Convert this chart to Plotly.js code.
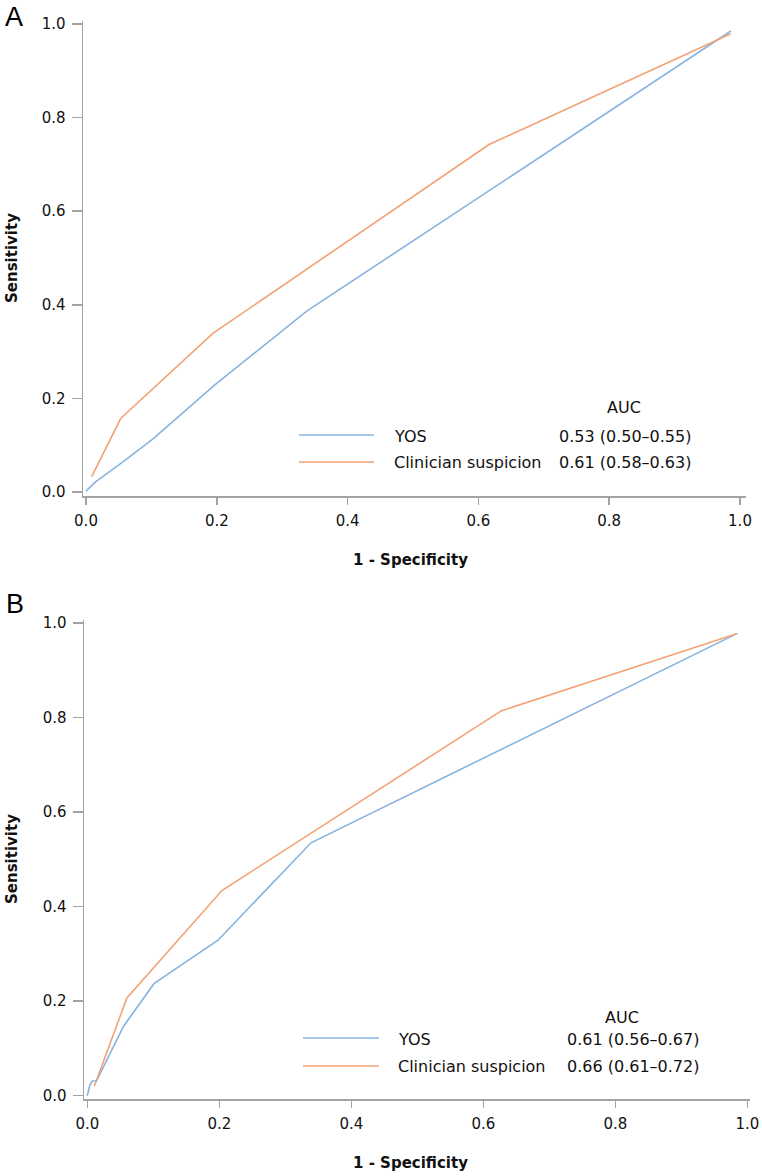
<!DOCTYPE html>
<html>
<head>
<meta charset="utf-8">
<script src="https://cdn.plot.ly/plotly-3.0.1.min.js"></script>
<style>html,body{margin:0;padding:0;background:#fff;}#chart{width:762px;height:1176px;}</style>
</head>
<body>
<div id="chart"></div>
<script>
// ---- Data ----
const seriesNames = ["YOS", "Clinician suspicion"];
const aucTextA = ["0.53 (0.50\u20130.55)", "0.61 (0.58\u20130.63)"];
const aucTextB = ["0.61 (0.56\u20130.67)", "0.66 (0.61\u20130.72)"];
const tickVals = [0, 0.2, 0.4, 0.6, 0.8, 1.0];
const tickLabels = ["0.0", "0.2", "0.4", "0.6", "0.8", "1.0"];

// Panel A
const aYosX  = [0, 0.015, 0.057, 0.102, 0.197, 0.338, 0.986];
const aYosY  = [0.002, 0.022, 0.065, 0.113, 0.229, 0.387, 0.985];
const aClinX = [0.0087, 0.053, 0.194, 0.617, 0.986];
const aClinY = [0.033, 0.157, 0.339, 0.743, 0.979];

// Panel B
const bYosX  = [0, 0.004, 0.0076, 0.014, 0.0545, 0.101, 0.198, 0.339, 0.985];
const bYosY  = [0, 0.023, 0.031, 0.031, 0.146, 0.237, 0.329, 0.535, 0.978];
const bClinX = [0.0106, 0.06, 0.204, 0.627, 0.985];
const bClinY = [0.02, 0.207, 0.434, 0.814, 0.978];

// ---- Styling ----
const W = 762, H = 1176;
const BLUE = "#86b3df", ORANGE = "#f2a274", AXIS = "#a3a3a3";
const FONT = "DejaVu Sans, Verdana, sans-serif";
const px = x => x / W;
const py = y => 1 - y / H;

function lineTrace(x, y, color, xa, ya, name) {
  return {x: x, y: y, type: "scatter", mode: "lines", name: name,
          line: {color: color, width: 1.6}, xaxis: xa, yaxis: ya,
          showlegend: false, hoverinfo: "skip"};
}

const data = [
  lineTrace(aYosX, aYosY, BLUE, "x", "y", seriesNames[0]),
  lineTrace(aClinX, aClinY, ORANGE, "x", "y", seriesNames[1]),
  lineTrace(bYosX, bYosY, BLUE, "x2", "y2", seriesNames[0]),
  lineTrace(bClinX, bClinY, ORANGE, "x2", "y2", seriesNames[1])
];

function axisBase(extra) {
  return Object.assign({
    showline: true, linecolor: AXIS, linewidth: 1.5,
    ticks: "outside", ticklen: 8, tickwidth: 1.5, tickcolor: AXIS,
    showgrid: false, zeroline: false,
    tickvals: tickVals, ticktext: tickLabels,
    tickfont: {family: FONT, size: 15, color: "#111"},
    fixedrange: true
  }, extra);
}

const layout = {
  width: W, height: H,
  margin: {l: 0, r: 0, t: 0, b: 0},
  paper_bgcolor: "#fff", plot_bgcolor: "#fff",
  showlegend: false,
  xaxis: axisBase({domain: [px(83), px(746)], range: [-3/654, 660/654], anchor: "y", ticklen: 7, ticklabelstandoff: 3}),
  yaxis: axisBase({domain: [py(496), py(20.5)], range: [-4/468, 1 + 3.5/468], anchor: "x", ticklen: 10, ticklabelstandoff: 3}),
  xaxis2: axisBase({domain: [px(84), px(750)], range: [-3.3/660, 662.7/660], anchor: "y2", ticklen: 7, ticklabelstandoff: 3}),
  yaxis2: axisBase({domain: [py(1099), py(619.5)], range: [-3.3/472.7, 1 + 3.5/472.7], anchor: "x2", ticklen: 10, ticklabelstandoff: 3}),
  shapes: [],
  annotations: []
};

function txt(x, y, text, opts) {
  return Object.assign({xref: "paper", yref: "paper", x: px(x), y: py(y), text: text,
    showarrow: false, xanchor: "left", yanchor: "middle",
    font: {family: FONT, size: 16, color: "#111"}}, opts || {});
}
function key(x0, x1, y, color) {
  return {type: "line", xref: "paper", yref: "paper", x0: px(x0), x1: px(x1), y0: py(y), y1: py(y),
          line: {color: color, width: 1.6}};
}

// Legend A
layout.shapes.push(key(299, 374, 435, BLUE), key(299, 374, 462, ORANGE));
layout.annotations.push(
  txt(624, 408, "AUC", {xanchor: "center"}),
  txt(392, 436, seriesNames[0]), txt(392, 463, seriesNames[1]),
  txt(557, 436, aucTextA[0]), txt(557, 463, aucTextA[1])
);
// Legend B
layout.shapes.push(key(303, 379, 1038, BLUE), key(303, 379, 1066, ORANGE));
layout.annotations.push(
  txt(622, 1017, "AUC", {xanchor: "center"}),
  txt(396, 1039, seriesNames[0]), txt(396, 1066, seriesNames[1]),
  txt(565, 1039, aucTextB[0]), txt(565, 1066, aucTextB[1])
);

// Axis titles
const titleFont = {family: FONT, size: 15, color: "#111", weight: "bold"};
layout.annotations.push(
  txt(410, 560, "<b>1 - Specificity</b>", {xanchor: "center", font: titleFont}),
  txt(410, 1163, "<b>1 - Specificity</b>", {xanchor: "center", font: titleFont}),
  txt(12, 258, "<b>Sensitivity</b>", {xanchor: "center", textangle: -90, font: titleFont}),
  txt(12, 859, "<b>Sensitivity</b>", {xanchor: "center", textangle: -90, font: titleFont})
);

// Panel letters
const letterFont = {family: "Liberation Sans, Arial, sans-serif", size: 27, color: "#000"};
layout.annotations.push(
  {xref: "paper", yref: "paper", x: px(14), y: 1, text: "A", showarrow: false,
   xanchor: "center", yanchor: "top", font: letterFont},
  txt(14.5, 604, "B", {xanchor: "center", font: letterFont})
);

Plotly.newPlot("chart", data, layout, {displayModeBar: false, staticPlot: true});
</script>
</body>
</html>
